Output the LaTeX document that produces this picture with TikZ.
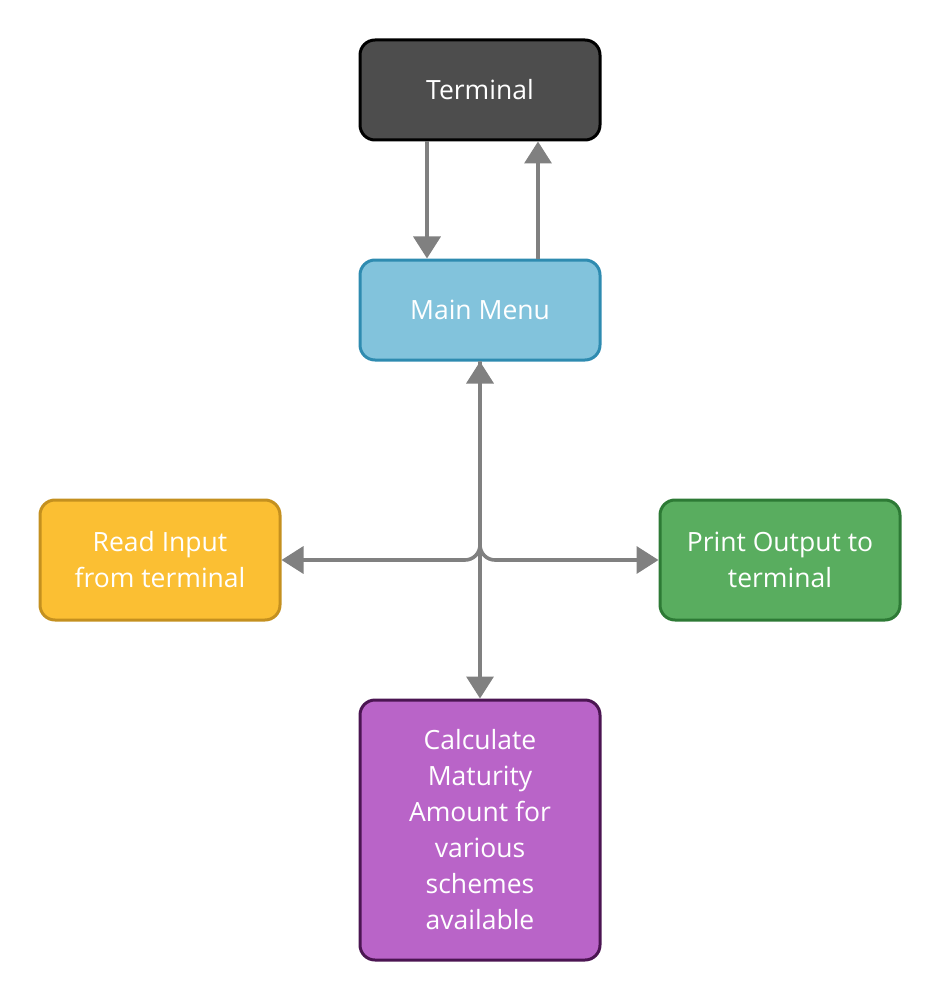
\documentclass[tikz,border=0pt]{standalone}
\usepackage{fontspec}
\setmainfont{Open Sans}
\usepackage{tikz}
\usetikzlibrary{arrows.meta, positioning}
\definecolor{termfill}{HTML}{4D4D4D}
\definecolor{menufill}{HTML}{82C3DC}
\definecolor{menuedge}{HTML}{2E8BB0}
\definecolor{readfill}{HTML}{FBBF33}
\definecolor{readedge}{HTML}{C4901F}
\definecolor{printfill}{HTML}{59AD5F}
\definecolor{printedge}{HTML}{2D7A35}
\definecolor{calcfill}{HTML}{B964C8}
\definecolor{calcedge}{HTML}{4B1552}
\definecolor{linkgray}{HTML}{808080}
\tikzset{
    block/.style={rectangle, rounded corners=15pt, line width=3pt, minimum width=240pt,
        minimum height=100pt, text=white, align=center,
        font=\fontsize{26.5}{36}\selectfont},
    link/.style={draw=linkgray, line width=3.6pt,
        -{Triangle[length=22pt, width=27pt]}}
}

\begin{document}
\begin{tikzpicture}[x=1pt, y=-1pt]
        \useasboundingbox (0, 0) rectangle (940, 1000);
        % Nodes
        \node[block, fill=termfill, draw=black] (term) at (480, 90) {Terminal};
        \node[block, fill=menufill, draw=menuedge] (menu) at (480, 310) {Main Menu};
        \node[block, fill=readfill, draw=readedge, minimum height=120pt] (read) at (160, 560) {Read Input\\from terminal};
        \node[block, fill=printfill, draw=printedge, minimum height=120pt] (print) at (780, 560) {Print Output to\\terminal};
        \node[block, fill=calcfill, draw=calcedge, minimum height=260pt] (calc) at (480, 830) {Calculate\\Maturity\\Amount for\\various\\schemes\\available};

        % Directed edges
        \draw[link] ([xshift=-53pt]term.south) -- ([xshift=-53pt]menu.north);
        \draw[link] ([xshift=58pt]menu.north) -- ([xshift=58pt]term.south);
        \draw[link, rounded corners=15pt] (menu.south) |- (read.east);
        \draw[link, rounded corners=15pt] (menu.south) |- (print.west);
        \draw[link, {Triangle[length=22pt, width=27pt]}-{Triangle[length=22pt, width=27pt]}] (menu.south) -- (calc.north);
    \end{tikzpicture}
\end{document}
